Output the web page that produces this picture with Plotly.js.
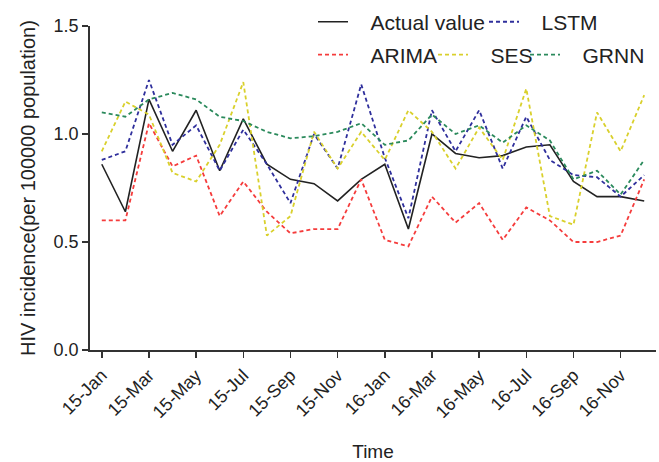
<!DOCTYPE html>
<html>
<head>
<meta charset="utf-8">
<script src="https://cdn.plot.ly/plotly-3.0.1.min.js"></script>
<style>html,body{margin:0;padding:0;background:#fff;}#chart{width:659px;height:462px;}</style>
</head>
<body>
<div id="chart"></div>
<script>
const months = ["15-Jan","15-Feb","15-Mar","15-Apr","15-May","15-Jun","15-Jul","15-Aug","15-Sep","15-Oct","15-Nov","15-Dec",
                "16-Jan","16-Feb","16-Mar","16-Apr","16-May","16-Jun","16-Jul","16-Aug","16-Sep","16-Oct","16-Nov","16-Dec"];
const tickLabels = ["15-Jan","15-Mar","15-May","15-Jul","15-Sep","15-Nov","16-Jan","16-Mar","16-May","16-Jul","16-Sep","16-Nov"];
const seriesNames = ["Actual value","LSTM","ARIMA","SES","GRNN"];
const actual = [0.86,0.64,1.16,0.92,1.11,0.83,1.07,0.86,0.79,0.77,0.69,0.79,0.86,0.56,1.00,0.91,0.89,0.90,0.94,0.95,0.78,0.71,0.71,0.69];
const lstm   = [0.88,0.92,1.25,0.95,1.04,0.83,1.02,0.86,0.68,1.00,0.84,1.23,0.89,0.61,1.11,0.92,1.11,0.84,1.08,0.88,0.81,0.80,0.71,0.81];
const arima  = [0.60,0.60,1.05,0.85,0.90,0.62,0.78,0.64,0.54,0.56,0.56,0.79,0.51,0.48,0.71,0.59,0.68,0.51,0.66,0.60,0.50,0.50,0.53,0.79];
const ses    = [0.92,1.15,1.09,0.82,0.78,0.95,1.24,0.53,0.62,1.01,0.84,1.01,0.88,1.11,1.01,0.84,1.03,0.88,1.21,0.62,0.58,1.10,0.92,1.18];
const grnn   = [1.10,1.08,1.16,1.19,1.16,1.08,1.06,1.01,0.98,0.99,1.01,1.05,0.95,0.97,1.09,1.00,1.04,0.96,1.04,0.97,0.79,0.83,0.72,0.88];

const FONT = "Liberation Sans, Arial, sans-serif";
const dash = "4px,3px";
const pad = "\u00a0\u00a0\u00a0";
const traces = [
  {x: months, y: actual, name: pad + seriesNames[0], type: "scatter", mode: "lines", line: {color: "#222222", width: 1.6}, legend: "legend", legendwidth: 126},
  {x: months, y: lstm, name: pad + seriesNames[1], type: "scatter", mode: "lines", line: {color: "#2f2f9c", width: 1.8, dash: dash}, legend: "legend"},
  {x: months, y: arima, name: pad + seriesNames[2], type: "scatter", mode: "lines", line: {color: "#f53c3c", width: 1.8, dash: dash}, legend: "legend2", legendwidth: 75},
  {x: months, y: ses, name: pad + seriesNames[3], type: "scatter", mode: "lines", line: {color: "#d9d02c", width: 1.8, dash: dash}, legend: "legend2", legendwidth: 47},
  {x: months, y: grnn, name: pad + seriesNames[4], type: "scatter", mode: "lines", line: {color: "#2b8a5c", width: 1.8, dash: dash}, legend: "legend2"}
];

const layout = {
  width: 659, height: 462,
  margin: {l: 90, r: 3, t: 25, b: 112},
  paper_bgcolor: "#ffffff", plot_bgcolor: "#ffffff",
  font: {family: FONT, color: "#222222", size: 18},
  showlegend: true,
  xaxis: {
    type: "category", range: [-0.5, 23.5],
    tickmode: "array", tickvals: tickLabels, ticktext: tickLabels,
    tickangle: -45, ticks: "outside", ticklen: 6, tickwidth: 1.5, tickcolor: "#333",
    showline: true, linecolor: "#333", linewidth: 1.8, showgrid: false, zeroline: false,
    tickfont: {size: 18, family: FONT, color: "#222"},
    title: {text: "Time", font: {size: 19, family: FONT, color: "#222"}, standoff: 24}
  },
  yaxis: {
    range: [0, 1.5], tickvals: [0, 0.5, 1.0, 1.5], tickformat: ".1f",
    ticks: "outside", ticklen: 6, tickwidth: 1.5, tickcolor: "#333",
    showline: true, linecolor: "#333", linewidth: 1.8, showgrid: false, zeroline: false,
    tickfont: {size: 18, family: FONT, color: "#222"},
    title: {text: "HIV incidence(per 100000 population)", font: {size: 20, family: FONT, color: "#222"}, standoff: 12}
  },
  legend: {orientation: "h", x: 0.394, y: 1.009, xanchor: "left", yanchor: "middle", bgcolor: "rgba(0,0,0,0)", font: {size: 21, family: FONT, color: "#222"}, itemwidth: 30},
  legend2: {orientation: "h", x: 0.394, y: 0.908, xanchor: "left", yanchor: "middle", bgcolor: "rgba(0,0,0,0)", font: {size: 21, family: FONT, color: "#222"}, itemwidth: 30}
};

Plotly.newPlot("chart", traces, layout, {displayModeBar: false, staticPlot: true});
</script>
</body>
</html>
